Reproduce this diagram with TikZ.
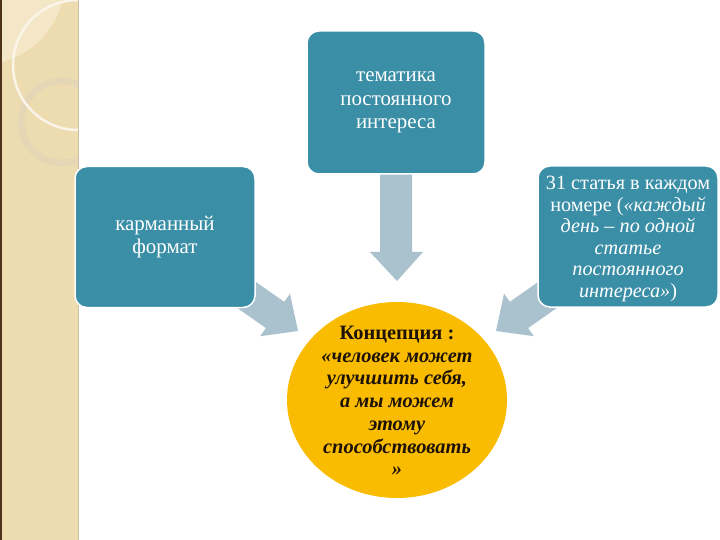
\documentclass[tikz,border=0pt]{standalone}
\usepackage{fontspec}
\setmainfont{LiberationSerif}[Extension=.ttf, UprightFont=*-Regular, BoldFont=*-Bold, ItalicFont=*-Italic, BoldItalicFont=*-BoldItalic]
\definecolor{teal1}{HTML}{3A8EA6}
\definecolor{arrowc}{HTML}{A9C2CE}
\definecolor{gold1}{HTML}{F9BC00}
\definecolor{side}{HTML}{EEDCB1}
\definecolor{sidelight}{HTML}{F4E7C8}
\definecolor{ringc}{HTML}{E5D7B6}
\definecolor{darktxt}{HTML}{1E1205}
\begin{document}
\begin{tikzpicture}[x=1bp,y=-1bp,
  boxn/.style={rounded corners=12bp, fill=teal1, draw=white, line width=1.5bp, text=white, align=center, inner sep=0pt},
  bigarrow/.style={fill=arrowc, draw=none}]
\useasboundingbox (0,0) rectangle (720,540);
\fill[white] (0,0) rectangle (720,540);
% sidebar
\fill[side] (0,0) rectangle (78,540);
\begin{scope}
  \clip (0,0) rectangle (78,540);
  \fill[sidelight] (-20,-20) circle[radius=85];
  \draw[ringc, line width=7bp] (62,122) circle[radius=41];
  \draw[white!70!side, line width=2.5bp] (78,65) circle[radius=65];
\end{scope}
\fill[black!60!brown] (0,0) rectangle (2,540);
\draw[side!70!gray, line width=1.2bp] (78.5,0) -- (78.5,540);
% arrows
\fill[bigarrow] (380,170) -- (412,170) -- (412,252) -- (423,252) -- (397,281) -- (370,252) -- (380,252) -- cycle;
\fill[bigarrow, shift={(298,331)}, rotate=-35] (0,0) -- (-28,-26) -- (-28,-16) -- (-80,-16) -- (-80,16) -- (-28,16) -- (-28,26) -- cycle;
\fill[bigarrow, shift={(496,331)}, rotate=-145] (0,0) -- (-28,-26) -- (-28,-16) -- (-80,-16) -- (-80,16) -- (-28,16) -- (-28,26) -- cycle;
% boxes
\node[boxn, minimum width=178bp, minimum height=143bp, font=\fontsize{21}{23.5}\selectfont] (top) at (396,102.5) {тематика\\постоянного\\интереса};
\node[boxn, minimum width=180bp, minimum height=141bp, font=\fontsize{21}{22.5}\selectfont] (left) at (165,237) {карманный\\формат};
\node[boxn, minimum width=180bp, minimum height=141bp, font=\fontsize{20.3}{21.6}\selectfont] (right) at (628,236.5) {};
\node[text=white, align=center, inner sep=0pt, font=\fontsize{20.3}{21.6}\selectfont] (rtext) at (628,239) {31 статья в каждом\\номере (\textit{«каждый}\\\textit{день – по одной}\\\textit{статье}\\\textit{постоянного}\\\textit{интереса»})};
% ellipse
\fill[gold1] (397,400) ellipse[x radius=110, y radius=98];
\node[text=darktxt, align=center, inner sep=0pt, font=\fontsize{20.5}{22.8}\selectfont\bfseries] (conc) at (397,401) {Концепция :\\\textit{«человек может}\\\textit{улучшить себя,}\\\textit{а мы можем}\\\textit{этому}\\\textit{способствовать}\\\textit{»}};
\end{tikzpicture}
\end{document}
